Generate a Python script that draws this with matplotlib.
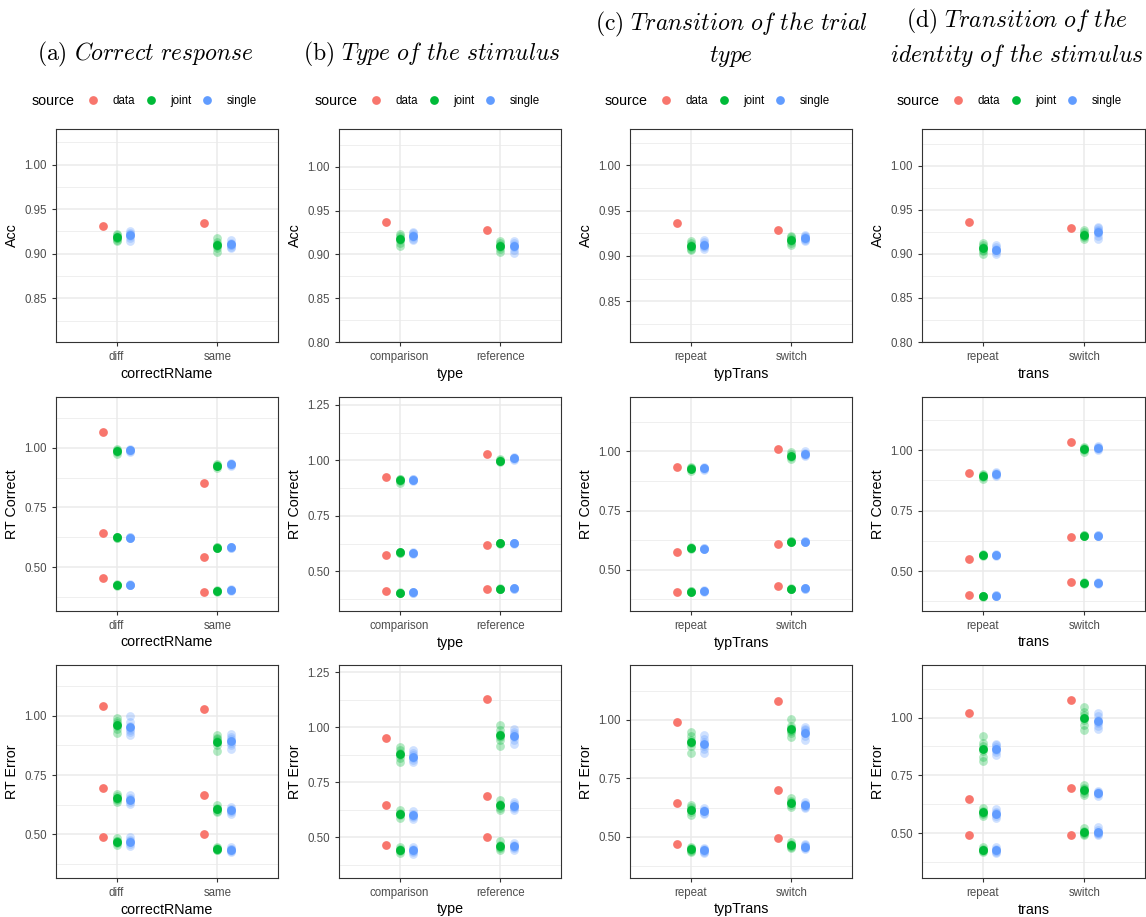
import matplotlib
matplotlib.use('Agg')
import matplotlib.pyplot as plt
from matplotlib.lines import Line2D
from matplotlib.ticker import MultipleLocator, FormatStrFormatter
import numpy as np

plt.rcParams['font.family'] = ['Liberation Sans', 'DejaVu Sans']
plt.rcParams['mathtext.fontset'] = 'cm'

# colours of the three sources (ggplot default hue palette)
src_colors = {'data': '#F8766D', 'joint': '#00BA38', 'single': '#619CFF'}

# ---- column (a): correct response ----
levels_a = ['diff', 'same']
acc_data_a = [0.931, 0.934]
acc_joint_a = [[0.914, 0.916, 0.918, 0.918, 0.919, 0.921, 0.922],
               [0.902, 0.906, 0.909, 0.910, 0.911, 0.913, 0.918]]
acc_single_a = [[0.914, 0.918, 0.920, 0.921, 0.922, 0.923, 0.926],
                [0.906, 0.908, 0.910, 0.910, 0.911, 0.912, 0.916]]
rtc_data_a = [[0.455, 0.645, 1.063], [0.397, 0.544, 0.854]]
rtc_joint_a = [[[0.424, 0.426, 0.427, 0.429], [0.621, 0.624, 0.626, 0.628], [0.975, 0.982, 0.986, 0.990, 0.995]],
               [[0.398, 0.400, 0.402, 0.404], [0.579, 0.582, 0.584, 0.586], [0.915, 0.921, 0.924, 0.927, 0.933]]]
rtc_single_a = [[[0.425, 0.427, 0.428, 0.430], [0.621, 0.623, 0.625, 0.627], [0.980, 0.985, 0.988, 0.991, 0.995]],
                [[0.403, 0.405, 0.407, 0.409], [0.580, 0.582, 0.584, 0.586], [0.922, 0.927, 0.930, 0.933, 0.937]]]
rte_data_a = [[0.487, 0.697, 1.042], [0.500, 0.664, 1.028]]
rte_joint_a = [[[0.455, 0.462, 0.467, 0.470, 0.474, 0.484], [0.635, 0.643, 0.650, 0.654, 0.660, 0.670],
                [0.928, 0.945, 0.955, 0.962, 0.968, 0.978, 0.992]],
               [[0.432, 0.436, 0.438, 0.440, 0.442, 0.446], [0.594, 0.600, 0.605, 0.608, 0.612, 0.624],
                [0.851, 0.878, 0.888, 0.895, 0.900, 0.908, 0.920]]]
rte_single_a = [[[0.452, 0.460, 0.467, 0.470, 0.476, 0.488], [0.630, 0.638, 0.644, 0.648, 0.654, 0.664],
                 [0.920, 0.932, 0.942, 0.948, 0.955, 0.975, 1.000]],
                [[0.425, 0.430, 0.434, 0.437, 0.440, 0.445], [0.585, 0.594, 0.600, 0.604, 0.608, 0.616],
                 [0.860, 0.875, 0.886, 0.893, 0.900, 0.912, 0.925]]]

# ---- column (b): type of the stimulus ----
levels_b = ['comparison', 'reference']
acc_data_b = [0.937, 0.928]
acc_joint_b = [[0.909, 0.913, 0.916, 0.918, 0.919, 0.921, 0.923],
               [0.903, 0.906, 0.908, 0.910, 0.911, 0.913, 0.915]]
acc_single_b = [[0.916, 0.918, 0.920, 0.921, 0.922, 0.924, 0.926],
                [0.901, 0.905, 0.908, 0.910, 0.911, 0.913, 0.915]]
rtc_data_b = [[0.411, 0.572, 0.923], [0.422, 0.618, 1.030]]
rtc_joint_b = [[[0.402, 0.404, 0.405, 0.407], [0.583, 0.585, 0.587, 0.589], [0.900, 0.908, 0.912, 0.915, 0.918]],
               [[0.419, 0.421, 0.423, 0.424], [0.623, 0.626, 0.628, 0.630], [0.992, 0.996, 0.999, 1.002, 1.006]]]
rtc_single_b = [[[0.403, 0.405, 0.406, 0.408], [0.580, 0.582, 0.584, 0.586], [0.907, 0.910, 0.913, 0.915, 0.918]],
                [[0.421, 0.423, 0.425, 0.427], [0.624, 0.626, 0.628, 0.630], [1.002, 1.006, 1.009, 1.012, 1.016]]]
rte_data_b = [[0.464, 0.647, 0.950], [0.503, 0.690, 1.127]]
rte_joint_b = [[[0.430, 0.437, 0.441, 0.444, 0.447, 0.455], [0.590, 0.600, 0.605, 0.608, 0.613, 0.625],
                [0.842, 0.860, 0.872, 0.878, 0.885, 0.896, 0.912]],
               [[0.445, 0.453, 0.458, 0.462, 0.466, 0.485], [0.625, 0.635, 0.642, 0.646, 0.652, 0.670],
                [0.915, 0.940, 0.955, 0.962, 0.970, 0.985, 1.010]]]
rte_single_b = [[[0.425, 0.434, 0.440, 0.444, 0.448, 0.455], [0.585, 0.592, 0.598, 0.601, 0.606, 0.620],
                 [0.840, 0.852, 0.860, 0.866, 0.872, 0.882, 0.895]],
                [[0.445, 0.452, 0.457, 0.461, 0.465, 0.475], [0.625, 0.633, 0.640, 0.644, 0.650, 0.660],
                 [0.925, 0.942, 0.955, 0.962, 0.970, 0.980, 0.990]]]

# ---- column (c): transition of the trial type ----
levels_c = ['repeat', 'switch']
acc_data_c = [0.936, 0.929]
acc_joint_c = [[0.906, 0.908, 0.910, 0.911, 0.912, 0.914, 0.916],
               [0.912, 0.914, 0.916, 0.918, 0.919, 0.921, 0.922]]
acc_single_c = [[0.908, 0.910, 0.911, 0.912, 0.913, 0.915, 0.917],
                [0.916, 0.917, 0.919, 0.920, 0.921, 0.922, 0.923]]
rtc_data_c = [[0.407, 0.576, 0.936], [0.431, 0.609, 1.010]]
rtc_joint_c = [[[0.405, 0.407, 0.409, 0.411], [0.589, 0.591, 0.593, 0.595], [0.918, 0.924, 0.928, 0.932, 0.936]],
               [[0.417, 0.419, 0.421, 0.423], [0.616, 0.618, 0.620, 0.622], [0.968, 0.976, 0.982, 0.988, 0.996]]]
rtc_single_c = [[[0.408, 0.410, 0.412, 0.414], [0.587, 0.589, 0.591, 0.593], [0.922, 0.926, 0.929, 0.932, 0.936]],
                [[0.419, 0.421, 0.423, 0.425], [0.616, 0.618, 0.620, 0.622], [0.982, 0.986, 0.990, 0.994, 1.000]]]
rte_data_c = [[0.472, 0.645, 0.991], [0.496, 0.700, 1.082]]
rte_joint_c = [[[0.436, 0.441, 0.445, 0.448, 0.452, 0.458], [0.595, 0.606, 0.614, 0.620, 0.626, 0.636],
                [0.859, 0.888, 0.900, 0.906, 0.914, 0.930, 0.948]],
               [[0.452, 0.458, 0.463, 0.467, 0.471, 0.478], [0.628, 0.638, 0.644, 0.648, 0.654, 0.665],
                [0.928, 0.942, 0.952, 0.958, 0.964, 0.975, 1.004]]]
rte_single_c = [[[0.432, 0.438, 0.442, 0.445, 0.449, 0.455], [0.598, 0.604, 0.609, 0.613, 0.617, 0.624],
                 [0.860, 0.876, 0.890, 0.898, 0.906, 0.920, 0.935]],
                [[0.447, 0.452, 0.457, 0.461, 0.465, 0.472], [0.622, 0.628, 0.633, 0.637, 0.641, 0.650],
                 [0.915, 0.930, 0.942, 0.949, 0.955, 0.962, 0.968]]]

# ---- column (d): transition of the identity of the stimulus ----
levels_d = ['repeat', 'switch']
acc_data_d = [0.936, 0.930]
acc_joint_d = [[0.900, 0.903, 0.905, 0.907, 0.908, 0.910, 0.912],
               [0.917, 0.919, 0.921, 0.922, 0.923, 0.925, 0.927]]
acc_single_d = [[0.900, 0.902, 0.904, 0.905, 0.906, 0.908, 0.910],
                [0.917, 0.921, 0.924, 0.926, 0.927, 0.929, 0.931]]
rtc_data_d = [[0.402, 0.548, 0.903], [0.455, 0.640, 1.035]]
rtc_joint_d = [[[0.393, 0.395, 0.397, 0.399], [0.563, 0.565, 0.567, 0.569], [0.882, 0.888, 0.892, 0.896, 0.900]],
               [[0.448, 0.450, 0.452, 0.454], [0.643, 0.645, 0.647, 0.649], [0.990, 1.000, 1.005, 1.009, 1.014]]]
rtc_single_d = [[[0.396, 0.398, 0.400, 0.402], [0.563, 0.565, 0.567, 0.569], [0.892, 0.896, 0.900, 0.904, 0.908]],
                [[0.447, 0.449, 0.451, 0.453], [0.643, 0.645, 0.647, 0.649], [1.002, 1.006, 1.010, 1.014, 1.018]]]
rte_data_d = [[0.493, 0.646, 1.019], [0.493, 0.696, 1.078]]
rte_joint_d = [[[0.418, 0.422, 0.426, 0.428, 0.432, 0.440], [0.575, 0.582, 0.588, 0.592, 0.597, 0.610],
                [0.814, 0.830, 0.855, 0.866, 0.876, 0.892, 0.919]],
               [[0.490, 0.496, 0.502, 0.506, 0.510, 0.520], [0.665, 0.675, 0.684, 0.690, 0.696, 0.710],
                [0.948, 0.970, 0.990, 1.000, 1.010, 1.025, 1.045]]]
rte_single_d = [[[0.412, 0.418, 0.424, 0.427, 0.430, 0.440], [0.565, 0.575, 0.582, 0.587, 0.592, 0.605],
                 [0.840, 0.850, 0.858, 0.865, 0.872, 0.880, 0.885]],
                [[0.490, 0.494, 0.498, 0.501, 0.504, 0.512, 0.528], [0.662, 0.668, 0.672, 0.675, 0.678, 0.684],
                 [0.950, 0.965, 0.976, 0.983, 0.990, 1.005, 1.020]]]

titles = [r'$\mathrm{(a)}\ \mathit{Correct\ response}$',
          r'$\mathrm{(b)}\ \mathit{Type\ of\ the\ stimulus}$',
          r'$\mathrm{(c)}\ \mathit{Transition\ of\ the\ trial}$' + '\n' + r'$\mathit{type}$',
          r'$\mathrm{(d)}\ \mathit{Transition\ of\ the}$' + '\n' + r'$\mathit{identity\ of\ the\ stimulus}$']
xnames = ['correctRName', 'type', 'typTrans', 'trans']
ynames = ['Acc', 'RT Correct', 'RT Error']

columns = [
    (levels_a, [(acc_data_a, acc_joint_a, acc_single_a), (rtc_data_a, rtc_joint_a, rtc_single_a),
                (rte_data_a, rte_joint_a, rte_single_a)]),
    (levels_b, [(acc_data_b, acc_joint_b, acc_single_b), (rtc_data_b, rtc_joint_b, rtc_single_b),
                (rte_data_b, rte_joint_b, rte_single_b)]),
    (levels_c, [(acc_data_c, acc_joint_c, acc_single_c), (rtc_data_c, rtc_joint_c, rtc_single_c),
                (rte_data_c, rte_joint_c, rte_single_c)]),
    (levels_d, [(acc_data_d, acc_joint_d, acc_single_d), (rtc_data_d, rtc_joint_d, rtc_single_d),
                (rte_data_d, rte_joint_d, rte_single_d)]),
]

# y ranges of each panel [row][col]
ylims = [[(0.801, 1.040), (0.800, 1.043), (0.805, 1.040), (0.800, 1.042)],
         [(0.318, 1.211), (0.322, 1.285), (0.326, 1.230), (0.335, 1.219)],
         [(0.316, 1.214), (0.316, 1.282), (0.325, 1.234), (0.305, 1.228)]]

W, H = 1146, 917
fig = plt.figure(figsize=(W / 100, H / 100), dpi=100)

col_left = [56, 339, 630, 922]
col_width = [222, 222, 222, 223]
row_top = [129, 397, 665]
row_bot = [342, 611, 878]
title_x = [145, 432, 731, 1017]
legend_x = [93, 376, 666, 958]

dodge = 0.4 / 3
ms = 6.3

for c, (levels, rows) in enumerate(columns):
    for r, (dat, joint, single) in enumerate(rows):
        ax = fig.add_axes([col_left[c] / W, 1 - row_bot[r] / H,
                           col_width[c] / W, (row_bot[r] - row_top[r]) / H])
        ax.set_axisbelow(True)
        for i in range(len(levels)):
            x = i + 1
            dvals = np.atleast_1d(dat[i])
            ax.plot([x - dodge] * len(dvals), dvals, 'o', ms=ms, color=src_colors['data'], mec='none')
            jg = joint[i] if r > 0 else [joint[i]]
            sg = single[i] if r > 0 else [single[i]]
            for xx, groups, key in [(x, jg, 'joint'), (x + dodge, sg, 'single')]:
                for runs in groups:
                    ax.plot([xx] * len(runs), runs, 'o', ms=ms, color=src_colors[key],
                            mec='none', alpha=0.3)
                    ax.plot([xx], [np.mean(runs)], 'o', ms=ms, color=src_colors[key], mec='none')
        ax.set_xlim(0.4, len(levels) + 0.6)
        ax.set_ylim(*ylims[r][c])
        ax.set_xticks(range(1, len(levels) + 1))
        ax.set_xticklabels(levels)
        step = 0.05 if r == 0 else 0.25
        ax.yaxis.set_major_locator(MultipleLocator(step))
        ax.yaxis.set_minor_locator(MultipleLocator(step / 2))
        ax.yaxis.set_major_formatter(FormatStrFormatter('%.2f'))
        ax.grid(True, which='major', color='#EBEBEB', lw=1.1)
        ax.grid(True, which='minor', axis='y', color='#EBEBEB', lw=0.55)
        ax.tick_params(which='major', length=3, width=0.8, color='#333333',
                       labelcolor='#4D4D4D', labelsize=8.3, pad=3.5)
        ax.tick_params(which='minor', length=0)
        for sp in ax.spines.values():
            sp.set_color('#333333')
            sp.set_linewidth(0.8)
        ax.set_xlabel(xnames[c], fontsize=10.3, labelpad=2.5)
        ax.set_ylabel(ynames[r], fontsize=10.3, labelpad=4)

    fig.text(title_x[c] / W, 1 - 69 / H, titles[c], ha='center', va='bottom',
             fontsize=17, linespacing=1.3)

    handles = [Line2D([], [], ls='none', marker='o', ms=ms, color=src_colors[k], mec='none')
               for k in ['data', 'joint', 'single']]
    fig.legend(handles, ['data', 'joint', 'single'], loc='center left', ncol=3,
               bbox_to_anchor=((legend_x[c] - 5.6) / W, 1 - 101 / H), frameon=False,
               fontsize=8.3, handlelength=1.0, handletextpad=1.15, columnspacing=0.9,
               borderaxespad=0, borderpad=0)
    fig.text((legend_x[c] - 18) / W, 1 - 101 / H, 'source', ha='right', va='center', fontsize=10.3)

fig.savefig('out.png', dpi=100)
